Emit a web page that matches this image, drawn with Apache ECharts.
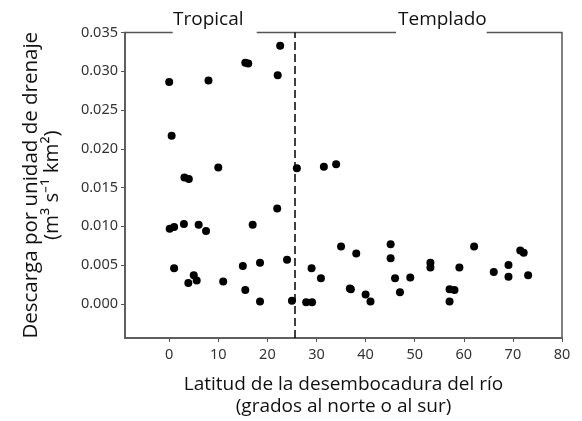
<!DOCTYPE html>
<html><head><meta charset="utf-8">
<script src="https://cdn.jsdelivr.net/npm/echarts@6/dist/echarts.min.js"></script>
<style>html,body{margin:0;padding:0;background:#fff}#c{width:582px;height:421px}</style>
</head><body><div id="c"></div>
<script>
const latitude = [0.0,0.5,8.0,15.5,16.1,22.6,22.1,10.0,26.0,31.5,34.0,
  3.1,4.0,0.1,1.0,3.0,6.0,7.5,1.0,5.0,3.9,5.6,11.0,15.0,15.5,17.0,18.5,18.5,22.0,24.0,25.0,27.9,29.1,29.0,30.9,35.0,36.8,
  38.1,37.0,40.0,41.0,45.1,45.1,46.0,47.0,49.1,53.2,53.2,57.1,58.1,57.1,59.1,62.1,66.1,69.1,69.1,71.5,72.2,73.1];
const discharge = [0.0286,0.0217,0.0288,0.0311,0.0310,0.0333,0.0295,0.0176,0.0175,0.0177,0.0180,
  0.0163,0.0161,0.0097,0.0099,0.0103,0.0102,0.0094,0.0046,0.0037,0.0027,0.0030,0.0029,0.0049,0.0018,0.0102,0.0053,0.0003,0.0123,0.0057,0.0004,0.0002,0.0002,0.0046,0.0033,0.0074,0.0020,
  0.0065,0.0019,0.0012,0.0003,0.0077,0.0059,0.0033,0.0015,0.0034,0.0053,0.0047,0.0019,0.0018,0.0003,0.0047,0.0074,0.0041,0.0050,0.0035,0.0069,0.0066,0.0037];
const xTicks = [0,10,20,30,40,50,60,70,80];
const yTicks = [0,0.005,0.010,0.015,0.020,0.025,0.030,0.035];
const boundary = 25.5;
const zoneLabels = ['Tropical','Templado'];

const chart = echarts.init(document.getElementById('c'));
const axisColor = '#555';
const font = 'Noto Sans';
chart.setOption({
  animation:false,
  backgroundColor:'#fff',
  grid:{left:125,right:20,top:32.5,bottom:83,show:true,borderColor:axisColor,borderWidth:1.5,backgroundColor:'transparent',outerBoundsMode:'none',containLabel:false},
  xAxis:{type:'value',min:-9,max:80,
    axisLine:{show:true,onZero:false,lineStyle:{color:axisColor,width:1.5}},
    axisTick:{show:true,length:4,customValues:xTicks,lineStyle:{color:axisColor}},
    axisLabel:{customValues:xTicks,color:'#333',fontSize:14.5,fontFamily:font,margin:9},
    splitLine:{show:false},
    name:'Latitud de la desembocadura del río\n(grados al norte o al sur)',
    nameLocation:'middle',nameGap:36,
    nameTextStyle:{color:'#111',fontSize:19,fontFamily:'Open Sans',lineHeight:22,verticalAlign:'top'}
  },
  yAxis:{type:'value',min:-0.0044,max:0.035,
    axisLine:{show:true,onZero:false,lineStyle:{color:axisColor,width:1.5}},
    axisTick:{show:true,length:4,customValues:yTicks,lineStyle:{color:axisColor}},
    axisLabel:{customValues:yTicks,color:'#333',fontSize:14.5,fontFamily:font,margin:7,formatter:v=>v.toFixed(3)},
    splitLine:{show:false},
    name:'Descarga por unidad de drenaje\n(m³ s⁻¹ km²)',
    nameLocation:'middle',nameGap:62,
    nameTextStyle:{color:'#111',fontSize:20.5,fontFamily:'Open Sans',lineHeight:21}
  },
  graphic:[
    {type:'rect',shape:{x:172.7,y:28,width:84,height:8},style:{fill:'#fff'},z:100},
    {type:'rect',shape:{x:396,y:28,width:90.7,height:8},style:{fill:'#fff'},z:100},
    {type:'text',x:173,y:20,z:101,style:{text:zoneLabels[0],fontSize:19,fontFamily:'Open Sans',fill:'#111',verticalAlign:'middle',align:'left'}},
    {type:'text',x:398,y:20,z:101,style:{text:zoneLabels[1],fontSize:19,fontFamily:'Open Sans',fill:'#111',verticalAlign:'middle',align:'left'}}
  ],
  series:[{
    type:'scatter',
    data:latitude.map((x,i)=>[x,discharge[i]]),
    symbolSize:8,
    itemStyle:{color:'#000',opacity:1},
    markLine:{silent:true,symbol:'none',label:{show:false},
      lineStyle:{color:'#000',type:[8,4],width:1.5},
      data:[{xAxis:boundary}]}
  }]
});
</script></body></html>
